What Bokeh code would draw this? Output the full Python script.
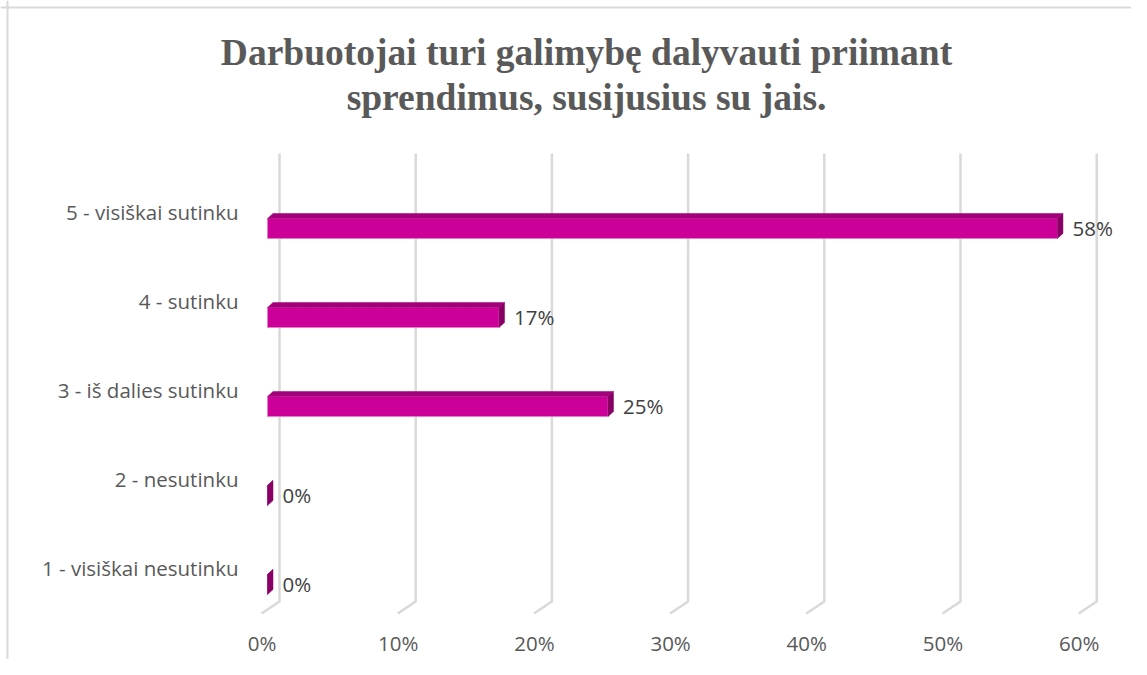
from bokeh.plotting import figure
from bokeh.models import Range1d, Label, Span
from bokeh.core.properties import value
from bokeh.embed import file_html
from bokeh.resources import INLINE

# ---- data ----
categories = ["1 - visiškai nesutinku", "2 - nesutinku", "3 - iš dalies sutinku",
              "4 - sutinku", "5 - visiškai sutinku"]
values = [0, 0, 25, 17, 58]
value_labels = ["0%", "0%", "25%", "17%", "58%"]
tick_values = [0, 10, 20, 30, 40, 50, 60]
tick_labels = ["0%", "10%", "20%", "30%", "40%", "50%", "60%"]
title_lines = ["Darbuotojai turi galimybę dalyvauti priimant",
               "sprendimus, susijusius su jais."]

# ---- layout ----
W, H = 1131, 659
PX_X = 13.62      # px per percent
PX_Y = 89.0       # px per category
X0 = 267.0        # canvas x of 0% (bar front plane)
Y1 = 584.0        # canvas y (from top) of first category

def ydata(cy):
    return 1 + (Y1 - cy) / PX_Y

def xdata(cx):
    return (cx - X0) / PX_X

p = figure(width=W, height=H, output_backend="svg", toolbar_location=None,
           x_axis_location=None, y_axis_location=None, min_border=0,
           x_range=Range1d(-X0 / PX_X, (W - X0) / PX_X),
           y_range=Range1d(1 - (H - Y1) / PX_Y, 1 + Y1 / PX_Y))
p.grid.visible = False
p.outline_line_color = None
p.background_fill_color = "white"
p.border_fill_color = "white"

# chart border (left & top visible)
p.add_layout(Span(location=xdata(7), dimension="height", line_color="#D9D9D9", line_width=2))
p.add_layout(Span(location=ydata(7), dimension="width", line_color="#D9D9D9", line_width=2))

# ---- gridlines (back wall + floor) ----
back_dx = 12 / PX_X
front_dx = -6 / PX_X
y_top = ydata(153)
y_back_bottom = ydata(601)
y_front = ydata(613)
gxs = [[t + back_dx, t + back_dx, t + front_dx] for t in tick_values]
gys = [[y_top, y_back_bottom, y_front] for t in tick_values]
p.multi_line(gxs, gys, line_color="#D9D9D9", line_width=2.5)

FONT = value("Open Sans")
FS = "20.5px"

# tick labels
p.text(x=tick_values, y=[y_front] * len(tick_values), text=tick_labels,
       x_offset=-5.5, y_offset=29, text_align="center", text_baseline="alphabetic",
       text_font=FONT, text_font_size=FS, text_color="#595959")

# ---- 3D bars ----
DX = 5.5 / PX_X
DY = 5.0 / PX_Y
HH = 10.0 / PX_Y
ys_idx = list(range(1, len(categories) + 1))

front_x, front_y, top_x, top_y, side_x, side_y = [], [], [], [], [], []
for v, i in zip(values, ys_idx):
    front_x.append([0, v, v, 0])
    front_y.append([i - HH, i - HH, i + HH, i + HH])
    top_x.append([0, v, v + DX, DX])
    top_y.append([i + HH, i + HH, i + HH + DY, i + HH + DY])
    side_x.append([v, v + DX, v + DX, v])
    side_y.append([i - HH, i - HH + DY, i + HH + DY, i + HH])

p.patches(front_x, front_y, fill_color="#CC0099", line_color="#E47CC8", line_width=0.8)
p.patches(top_x, top_y, fill_color="#A3007C", line_color="#A3007C", line_width=0.5)
p.patches(side_x, side_y, fill_color="#880065", line_color="#880065", line_width=0.5)

# value labels
p.text(x=values, y=ys_idx, text=value_labels, x_offset=15, y_offset=-1,
       text_align="left", text_baseline="alphabetic",
       text_font=FONT, text_font_size=FS, text_color="#404040")

# category labels
p.text(x=[0] * len(categories), y=ys_idx, text=categories, x_offset=-29, y_offset=-17,
       text_align="right", text_baseline="alphabetic",
       text_font=FONT, text_font_size=FS, text_color="#595959")

# ---- title ----
for k, line in enumerate(title_lines):
    p.add_layout(Label(x=586, y=H - (52 + 45 * k), x_units="screen", y_units="screen",
                       text=line, text_align="center", text_baseline="alphabetic",
                       text_font="Liberation Serif", text_font_style="bold",
                       text_font_size="37.5px", text_color="#595959"))

open("out.html", "w").write(file_html(p, INLINE))
